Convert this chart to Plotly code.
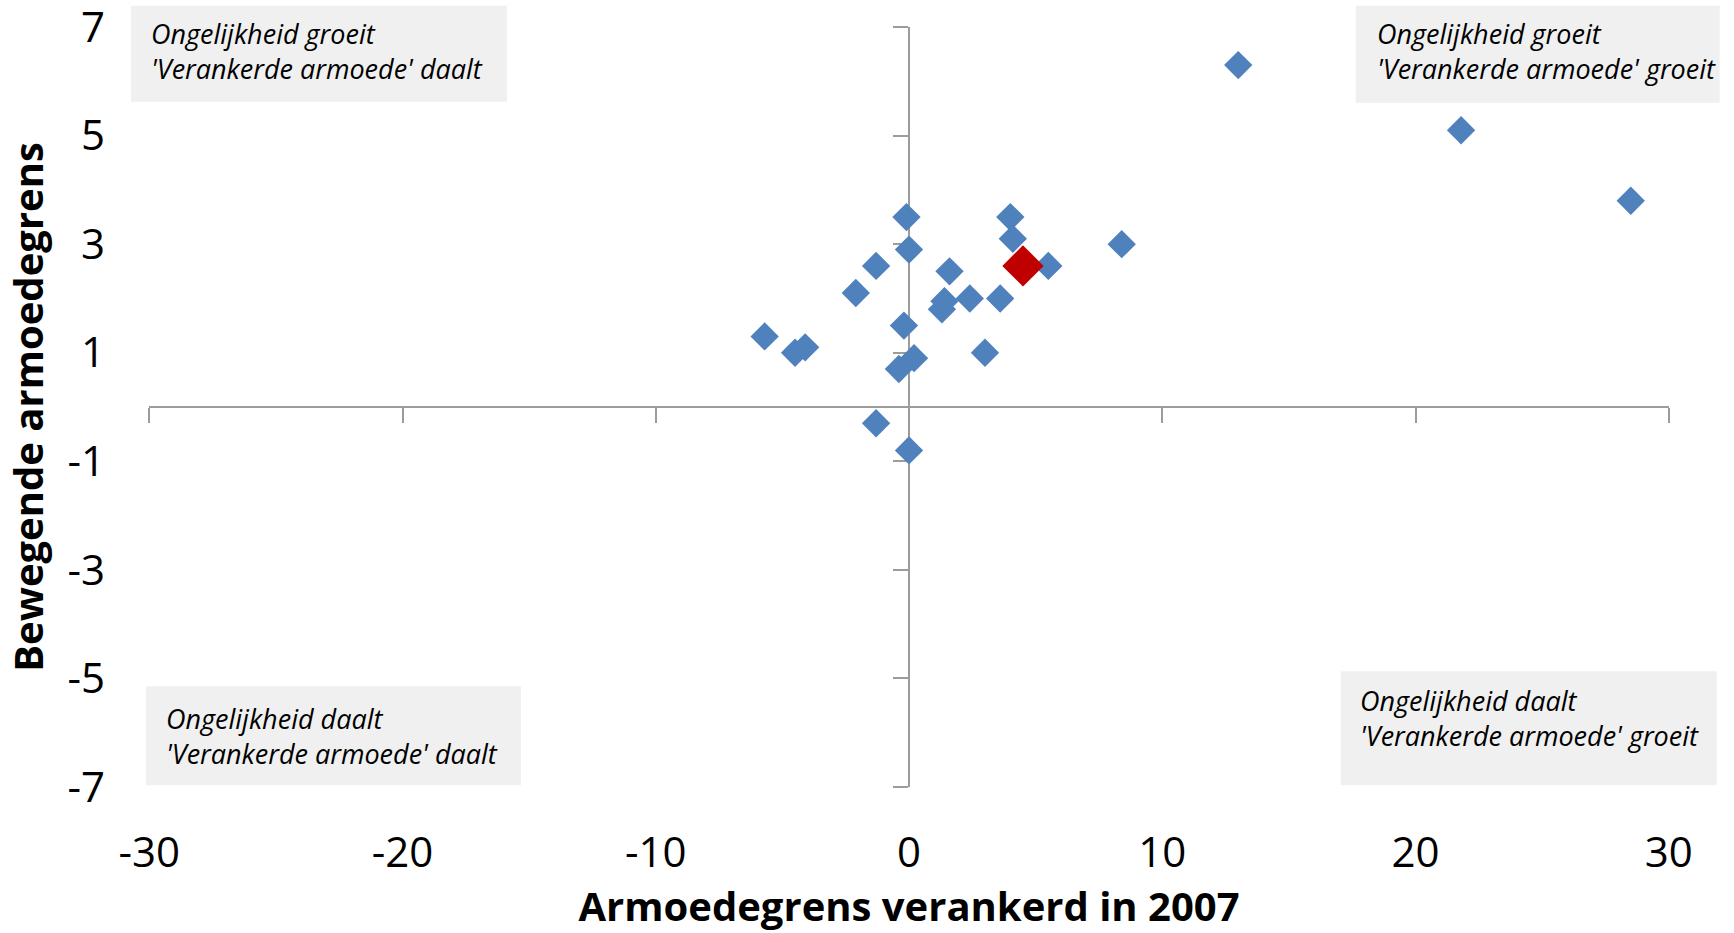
import plotly.graph_objects as go

# ---- data ----
blue_x = [-0.1, 0.0, -1.3, -2.1, -5.7, -4.5, -4.1, -0.2, 0.2, -0.4, -1.3, 0.0,
          1.6, 1.4, 1.3, 2.4, 3.6, 3.0, 4.0, 4.1, 5.5, 8.4, 13.0, 21.8, 28.5]
blue_y = [3.5, 2.9, 2.6, 2.1, 1.3, 1.0, 1.1, 1.5, 0.9, 0.7, -0.3, -0.8,
          2.5, 1.95, 1.8, 2.0, 2.0, 1.0, 3.5, 3.1, 2.6, 3.0, 6.3, 5.1, 3.8]
red_x = [4.5]
red_y = [2.6]

x_ticks = [-30, -20, -10, 0, 10, 20, 30]
y_ticks = [-7, -5, -3, -1, 1, 3, 5, 7]
x_ticktext = [str(v) for v in x_ticks]
y_ticktext = [str(v) for v in y_ticks]

x_title = "Armoedegrens verankerd in 2007"
y_title = "Bewegende armoedegrens"

quadrant_texts = [
    "Ongelijkheid groeit<br>'Verankerde armoede' daalt",
    "Ongelijkheid groeit<br>'Verankerde armoede' groeit",
    "Ongelijkheid daalt<br>'Verankerde armoede' daalt",
    "Ongelijkheid daalt<br>'Verankerde armoede' groeit",
]

# ---- layout geometry (pixels) ----
W, H = 1734, 933
L, R, T, B = 149, 1669.3, 27.3, 786.7
PW, PH = R - L, B - T


def px(xp):
    return (xp - L) / PW


def py(yp):
    return (B - yp) / PH


BLUE = "#4F81BD"
RED = "#C00000"
AXIS = "#9C9C9C"
FONT = "Open Sans"
EPS = 0.002

fig = go.Figure()
# dummy trace to activate the crossing axes
fig.add_trace(go.Scatter(x=[], y=[], xaxis="x2", yaxis="y2", showlegend=False,
                         hoverinfo="skip"))
fig.add_trace(go.Scatter(x=blue_x, y=blue_y, mode="markers", showlegend=False,
                         marker=dict(symbol="diamond", size=21.8, color=BLUE,
                                     line=dict(width=0))))
fig.add_trace(go.Scatter(x=red_x, y=red_y, mode="markers", showlegend=False,
                         marker=dict(symbol="diamond", size=31.8, color=RED,
                                     line=dict(width=0))))

# quadrant boxes: (left, top, right, bottom, text_left, text_mid_y)
boxes = [
    (131, 6, 507, 102, 149, 51.4),
    (1356, 6, 1720, 103, 1375, 51.5),
    (146, 686, 521, 785, 164, 735.5),
    (1341, 671, 1717, 785, 1358, 717.5),
]
shapes = []
annotations = []
for (bl, bt, br, bb, tl, tm), txt in zip(boxes, quadrant_texts):
    shapes.append(dict(type="rect", xref="paper", yref="paper",
                       x0=px(bl), x1=px(br), y0=py(bb), y1=py(bt),
                       fillcolor="#F0F0F0", line=dict(width=0), layer="below"))
    annotations.append(dict(xref="paper", yref="paper", x=px(tl), y=py(tm),
                            xanchor="left", yanchor="middle", align="left",
                            showarrow=False, text="<i>" + txt + "</i>",
                            font=dict(family=FONT, size=27, color="#000000")))

fig.update_layout(
    width=W, height=H,
    margin=dict(l=L, r=W - R, t=T, b=H - B, pad=0, autoexpand=False),
    paper_bgcolor="white", plot_bgcolor="white",
    font=dict(family=FONT, color="#000000"),
    shapes=shapes, annotations=annotations,
    xaxis=dict(range=[-30 - 0.01, 30 + 0.01], tickvals=x_ticks, ticktext=x_ticktext,
               showgrid=False, zeroline=False, ticklabeloverflow="allow",
               automargin=False,
               showline=False, ticks="outside", ticklen=29,
               tickcolor="rgba(0,0,0,0)", tickfont=dict(size=42),
               title=dict(text="<b>" + x_title + "</b>", font=dict(size=40),
                          standoff=19)),
    yaxis=dict(range=[-7 - EPS, 7 + EPS], tickvals=y_ticks, ticktext=y_ticktext,
               showgrid=False, zeroline=False, ticklabeloverflow="allow",
               automargin=False,
               showline=False, ticks="outside", ticklen=34.5,
               tickcolor="rgba(0,0,0,0)", tickfont=dict(size=42),
               title=dict(text="<b>" + y_title + "</b>", font=dict(size=40),
                          standoff=15)),
    xaxis2=dict(overlaying="x", anchor="free", position=0.5, side="bottom",
                range=[-30 - 0.01, 30 + 0.01], tickvals=x_ticks, showticklabels=False,
                showgrid=False, zeroline=False, showline=True, linecolor=AXIS,
                linewidth=1.5, ticks="outside", ticklen=15, tickcolor=AXIS,
                tickwidth=1.5, layer="below traces", automargin=False),
    yaxis2=dict(overlaying="y", anchor="free", position=0.5, side="left",
                range=[-7 - EPS, 7 + EPS], tickvals=y_ticks, showticklabels=False,
                showgrid=False, zeroline=False, showline=True, linecolor=AXIS,
                linewidth=1.5, ticks="outside", ticklen=15, tickcolor=AXIS,
                tickwidth=1.5, layer="below traces", automargin=False),
)

fig.write_html("out.html", config={"displayModeBar": False},
               post_script="document.body.style.margin='0';document.body.style.overflow='hidden';")
